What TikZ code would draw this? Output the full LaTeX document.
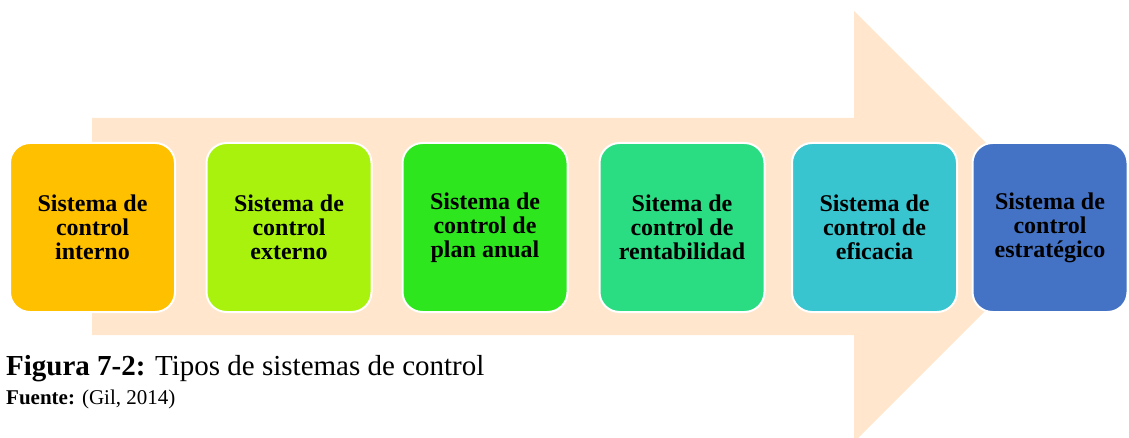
\documentclass[tikz,border=0pt]{standalone}
\usepackage{fontspec}
\setmainfont{Liberation Serif}
\usepackage{tikz}
\usetikzlibrary{shapes}

\definecolor{flecha}{HTML}{FFE6CC}
\definecolor{c1}{HTML}{FFC000}
\definecolor{c2}{HTML}{A9F20E}
\definecolor{c3}{HTML}{2DE61E}
\definecolor{c4}{HTML}{2ADC82}
\definecolor{c5}{HTML}{38C5CF}
\definecolor{c6}{HTML}{4472C4}

\begin{document}
\begin{tikzpicture}[x=1pt, y=-1pt]
	\tikzstyle{etapa} = [rectangle, rounded corners=20pt, draw=white, line width=2pt, minimum width=165pt, minimum height=169pt, align=center, font=\bfseries\fontsize{24}{24}\selectfont]
	\clip (0,0) rectangle (1129,438);
	\fill [flecha] (92,118) -- (854,118) -- (854,11) -- (1069.5,226.5) -- (854,442) -- (854,335) -- (92,335) -- cycle;
	\node [etapa, fill=c1] (1) at (92.5,227.5) {Sistema de\\control\\interno};
	\node [etapa, fill=c2] (2) at (289,227.5) {Sistema de\\control\\externo};
	\node [etapa, fill=c3] (3) at (485,227.5) {Sistema de\\control de\\plan anual};
	\node [etapa, fill=c4] (4) at (682,227.5) {Sitema de\\control de\\rentabilidad};
	\node [etapa, fill=c5] (5) at (874.5,227.5) {Sistema de\\control de\\eficacia};
	\node [etapa, fill=c6, minimum width=155pt] (6) at (1050,227.5) {Sistema de\\control\\estrat\'egico};
	\node [anchor=base west, inner sep=0pt, font=\fontsize{29}{29}\selectfont] (fig) at (6,375) {\textbf{Figura 7-2:} Tipos de sistemas de control};
	\node [anchor=base west, inner sep=0pt, font=\fontsize{21}{21}\selectfont] (fuente) at (6,404) {\textbf{Fuente:} (Gil, 2014)};
\end{tikzpicture}
\end{document}
